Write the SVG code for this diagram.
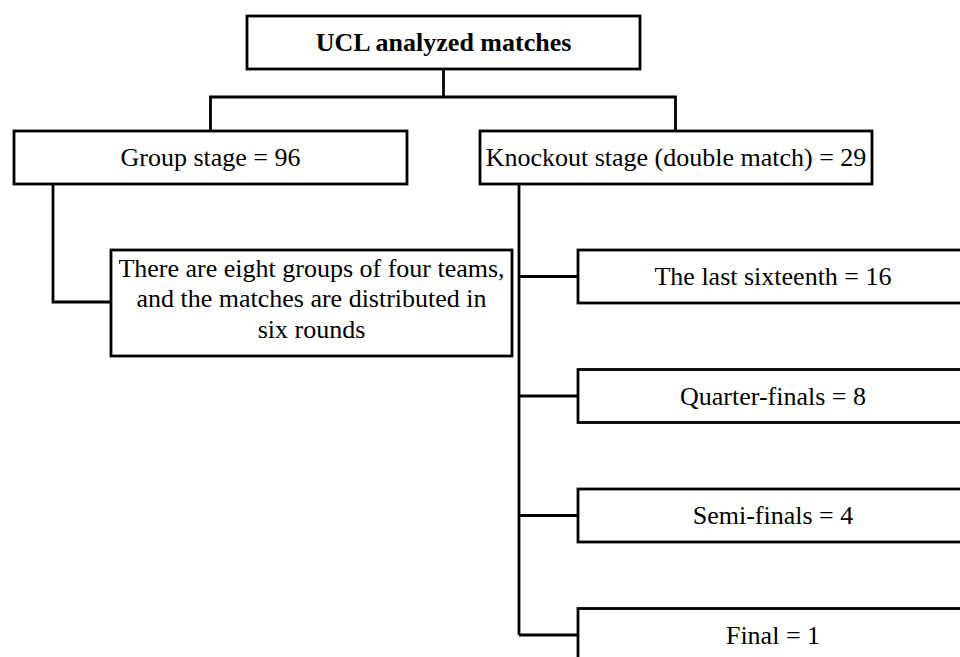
<svg xmlns="http://www.w3.org/2000/svg" width="960" height="657" viewBox="0 0 960 657">
<style>
.box{fill:#fff;stroke:#000;stroke-width:2.8}
.t{font-family:"Liberation Serif","Times New Roman",serif;font-size:26px;fill:#000;text-anchor:middle}
.b{font-weight:bold}
.c{fill:none;stroke:#000;stroke-width:2.8}
</style>
<rect width="960" height="657" fill="#fff"/>
<g id="connectors">
<polyline class="c" points="443.5,69 443.5,97"/>
<polyline class="c" points="210.5,131 210.5,97 675.5,97 675.5,131"/>
<polyline class="c" points="53,184 53,302 111,302"/>
<polyline class="c" points="519,184 519,635"/>
<line class="c" x1="519" y1="276.5" x2="578" y2="276.5"/>
<line class="c" x1="519" y1="396" x2="578" y2="396"/>
<line class="c" x1="519" y1="515.5" x2="578" y2="515.5"/>
<line class="c" x1="519" y1="635" x2="578" y2="635"/>
</g>
<g id="root">
<rect class="box" x="247" y="16" width="393" height="53"/>
<text class="t b" x="443.5" y="51">UCL analyzed matches</text>
</g>
<g id="group">
<rect class="box" x="14" y="131" width="393" height="53"/>
<text class="t" x="210.5" y="166">Group stage = 96</text>
</g>
<g id="knockout">
<rect class="box" x="480" y="131" width="392" height="53"/>
<text class="t" x="676" y="166">Knockout stage (double match) = 29</text>
</g>
<g id="groups-detail">
<rect class="box" x="111" y="250" width="401" height="106"/>
<text class="t" x="311.5" y="277">There are eight groups of four teams,</text>
<text class="t" x="311.5" y="307">and the matches are distributed in</text>
<text class="t" x="311.5" y="338">six rounds</text>
</g>
<g id="sixteenth">
<rect class="box" x="578" y="250" width="392" height="53"/>
<text class="t" x="773" y="285">The last sixteenth = 16</text>
</g>
<g id="quarter">
<rect class="box" x="578" y="369.5" width="392" height="53"/>
<text class="t" x="773" y="404.5">Quarter-finals = 8</text>
</g>
<g id="semi">
<rect class="box" x="578" y="489" width="392" height="53"/>
<text class="t" x="773" y="524">Semi-finals = 4</text>
</g>
<g id="final">
<rect class="box" x="578" y="608.5" width="392" height="53"/>
<text class="t" x="773" y="643.5">Final = 1</text>
</g>
</svg>
